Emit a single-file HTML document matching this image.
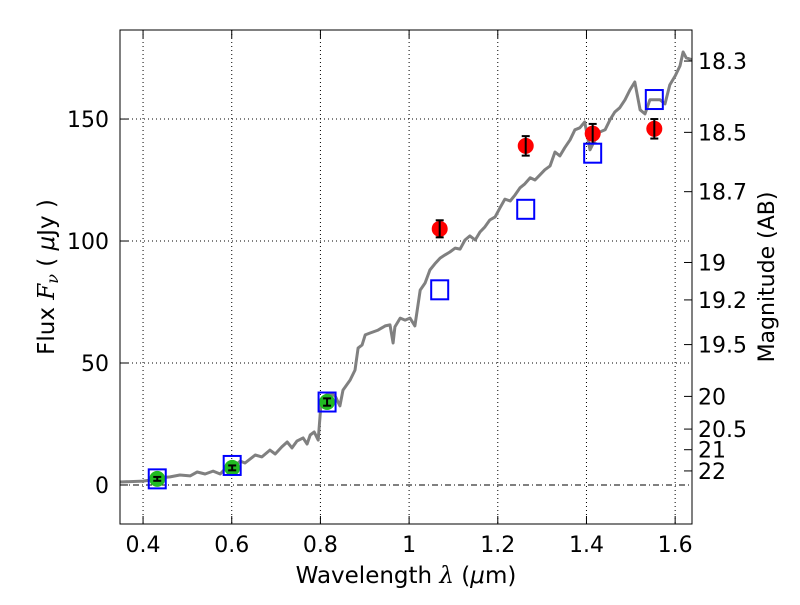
<!DOCTYPE html>
<html><head><meta charset="utf-8"><style>
body{margin:0;background:#fff;}
svg text{font-family:"DejaVu Sans","Liberation Sans",sans-serif;fill:#000;}
</style></head><body>
<svg id="chart" width="800" height="600" xmlns="http://www.w3.org/2000/svg">
<g id="grid"></g>
<g id="series"></g>
<rect x="120" y="30" width="572" height="494" fill="none" stroke="#000" stroke-width="1"/>
<g id="axes"></g>
<text x="406" y="583" font-size="23" text-anchor="middle">Wavelength  <tspan font-family="DejaVu Serif" font-style="italic">λ</tspan> (<tspan font-style="italic">μ</tspan>m)</text>
<text transform="translate(54,277) rotate(-90)" font-size="23" text-anchor="middle">Flux  <tspan font-family="DejaVu Serif" font-style="italic">F</tspan><tspan font-size="16" font-family="DejaVu Serif" font-style="italic" dy="4">ν</tspan><tspan dy="-4">  (  <tspan font-style="italic">μ</tspan>Jy )</tspan></text>
<text transform="translate(774,277) rotate(-90)" font-size="22" text-anchor="middle">Magnitude (AB)</text>
</svg>
<script>
const xTicks=[0.4,0.6,0.8,1.0,1.2,1.4,1.6];
const xTickLabels=["0.4","0.6","0.8","1","1.2","1.4","1.6"];
const yTicks=[0,50,100,150];
const magTicks=[18.3,18.5,18.7,19,19.2,19.5,20,20.5,21,22];
const specWave=[0.348,0.400,0.416,0.438,0.461,0.483,0.506,0.522,0.540,0.558,0.574,0.587,0.596,0.619,0.630,0.653,0.668,0.686,0.698,0.713,0.725,0.736,0.747,0.761,0.770,0.777,0.786,0.795,0.801,0.810,0.821,0.833,0.844,0.851,0.867,0.878,0.885,0.894,0.901,0.912,0.930,0.946,0.957,0.964,0.968,0.980,0.991,1.002,1.013,1.025,1.036,1.047,1.058,1.070,1.081,1.092,1.104,1.115,1.126,1.137,1.149,1.160,1.171,1.182,1.194,1.205,1.216,1.228,1.239,1.250,1.261,1.273,1.284,1.295,1.306,1.318,1.329,1.340,1.351,1.363,1.374,1.385,1.396,1.408,1.419,1.430,1.442,1.453,1.464,1.475,1.487,1.498,1.509,1.521,1.532,1.543,1.555,1.566,1.577,1.588,1.600,1.611,1.618,1.625,1.638];
const specFlux=[1.2,1.6,2.0,2.9,3.3,4.1,3.7,5.3,4.5,5.7,4.5,7.0,6.1,9.8,9.0,12.3,11.5,14.3,12.7,15.6,17.6,15.2,18.0,19.3,16.8,20.5,21.7,18.4,32.8,36.5,37.7,36.5,32.4,38.9,43.0,47.1,56.1,57.4,61.5,62.3,63.5,65.2,65.6,58.2,64.8,68.4,67.6,68.4,65.2,79.9,82.8,88.1,90.6,93.0,94.3,95.5,97.1,96.7,100.4,102.1,100.4,103.7,105.8,108.6,109.9,113.6,117.2,116.4,118.9,121.8,123.4,125.9,125.0,127.1,129.2,130.8,136.5,134.9,138.2,141.5,145.6,146.4,148.8,137.4,141.5,144.7,145.6,149.7,152.9,154.6,157.9,161.9,165.2,153.8,152.1,157.9,157.9,157.9,156.2,164.0,167.7,171.8,177.5,175.1,174.3];
const greenWave=[0.432,0.601,0.815];
const greenFlux=[2.5,7,34];
const greenErr=[0.8,1,1.5];
const redWave=[1.069,1.263,1.414,1.553];
const redFlux=[105,139,144,146];
const redErr=[3.5,4,4,4];
const boxWave=[0.432,0.601,0.815,1.069,1.263,1.414,1.553];
const boxFlux=[2.5,8,34,80,113,136,158];

const X0=120,X1=692,Y0=30,Y1=524,XMIN=0.348,XMAX=1.638,YMIN=-16,YMAX=186.5;
function sx(v){return X0+(v-XMIN)/(XMAX-XMIN)*(X1-X0);}
function sy(v){return Y1-(v-YMIN)/(YMAX-YMIN)*(Y1-Y0);}
const NS="http://www.w3.org/2000/svg";
function mk(tag,parent,attrs){const e=document.createElementNS(NS,tag);for(const k in attrs)e.setAttribute(k,attrs[k]);parent.appendChild(e);return e;}
const grid=document.getElementById('grid'),ser=document.getElementById('series'),ax=document.getElementById('axes');
xTicks.forEach((t,i)=>{
 const x=sx(t);
 const g=mk('line',grid,{x1:x,x2:x,y1:Y0,y2:Y1,stroke:'#000','stroke-dasharray':'1,3','stroke-width':1});
 
 
 mk('line',ax,{x1:x,x2:x,y1:Y1,y2:Y1-8,stroke:'#000'});
 mk('line',ax,{x1:x,x2:x,y1:Y0,y2:Y0+8,stroke:'#000'});
 const l=mk('text',ax,{x:x,y:Y1+28,'font-size':22,'text-anchor':'middle'});l.textContent=xTickLabels[i];
 
 
});
yTicks.forEach(t=>{
 const y=sy(t);
 const g=mk('line',grid,{x1:X0,x2:X1,y1:y,y2:y,stroke:'#000','stroke-dasharray':t===0?'6,3,1,3':'1,3','stroke-width':1});
 
 
 mk('line',ax,{x1:X0,x2:X0+8,y1:y,y2:y,stroke:'#000'});
 const l=mk('text',ax,{x:X0-11,y:y+8,'font-size':22,'text-anchor':'end'});l.textContent=String(t);
 
 
});
magTicks.forEach(m=>{
 const f=Math.pow(10,(23.9-m)/2.5);const y=sy(f);
 mk('line',ax,{x1:X1,x2:X1-8,y1:y,y2:y,stroke:'#000'});
 const l=mk('text',ax,{x:X1+6,y:y+8,'font-size':22});l.textContent=String(m);
 
 
});
const pts=specWave.map((w,i)=>sx(w).toFixed(1)+','+sy(specFlux[i]).toFixed(1)).join(' ');
const pl=mk('polyline',ser,{points:pts,fill:'none',stroke:'#808080','stroke-width':3,'stroke-linejoin':'round'});


function errbar(x,v,e){const y1=sy(v+e),y2=sy(v-e);
 mk('line',ser,{x1:x,x2:x,y1:y1,y2:y2,stroke:'#000','stroke-width':2});
 mk('line',ser,{x1:x-4,x2:x+4,y1:y1,y2:y1,stroke:'#000','stroke-width':2});
 mk('line',ser,{x1:x-4,x2:x+4,y1:y2,y2:y2,stroke:'#000','stroke-width':2});}
greenWave.forEach((w,i)=>{const c=mk('circle',ser,{cx:sx(w),cy:sy(greenFlux[i]),r:8,fill:'#22bb22'});
 
 
 errbar(sx(w),greenFlux[i],greenErr[i]);});
redWave.forEach((w,i)=>{const c=mk('circle',ser,{cx:sx(w),cy:sy(redFlux[i]),r:8,fill:'#ff0000'});
 
 
 errbar(sx(w),redFlux[i],redErr[i]);});
boxWave.forEach((w,i)=>{const r=mk('rect',ser,{x:sx(w)-8.5,y:sy(boxFlux[i])-9.5,width:17,height:19,fill:'none',stroke:'#0000ff','stroke-width':2});
 
 });
</script>
</body></html>
